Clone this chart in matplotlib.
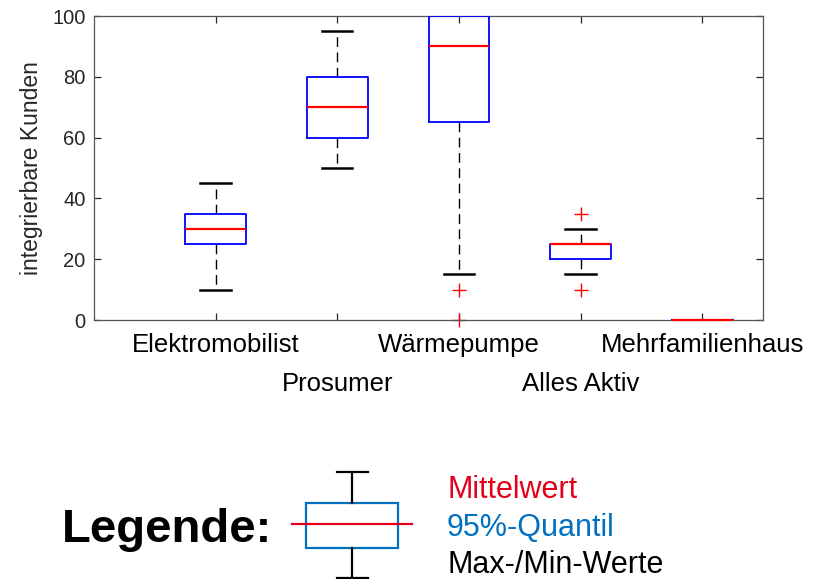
import matplotlib
matplotlib.use('Agg')
import matplotlib.pyplot as plt
from matplotlib.patches import Rectangle

plt.rcParams['font.family'] = ['Liberation Sans', 'DejaVu Sans']

# Kennwerte je Kundengruppe
gruppen = ['Elektromobilist', 'Prosumer', 'Wärmepumpe', 'Alles Aktiv', 'Mehrfamilienhaus']
minimum = [10, 50, 15, 15, 0]
q_unten = [25, 60, 65, 20, 0]
median = [30, 70, 90, 25, 0]
q_oben = [35, 80, 100, 25, 0]
maximum = [45, 95, 100, 30, 0]
ausreisser = [[], [], [10, 0], [35, 10], []]

stats = []
for i, name in enumerate(gruppen):
    stats.append({'label': name, 'whislo': minimum[i], 'q1': q_unten[i], 'med': median[i],
                  'q3': q_oben[i], 'whishi': maximum[i], 'fliers': ausreisser[i]})

fig = plt.figure(figsize=(8.3, 5.79), dpi=100)
ax = fig.add_axes([94/830, 1 - 320/579, (763 - 94)/830, (320 - 16)/579])

grau = '#262626'
bp = ax.bxp(stats, positions=range(1, 6), widths=0.5, showfliers=True,
            boxprops=dict(color='blue', linewidth=1.3, zorder=3),
            medianprops=dict(color='red', linewidth=1.6, zorder=4, clip_on=False),
            whiskerprops=dict(color='black', linewidth=1.0, linestyle=(0, (7, 4)), zorder=2),
            capprops=dict(color='black', linewidth=1.8, zorder=2),
            flierprops=dict(marker='+', markeredgecolor='red', markersize=10,
                            markeredgewidth=1.0, clip_on=False),
            capwidths=0.25)

# kein Whisker-Strich, wenn das Maximum auf der Boxkante liegt
for i in range(len(gruppen)):
    if maximum[i] == q_oben[i] and q_oben[i] != q_unten[i]:
        bp['caps'][2 * i + 1].set_visible(False)

ax.set_xlim(0, 5.5)
ax.set_ylim(0, 100)
ax.set_yticks([0, 20, 40, 60, 80, 100])

# Beschriftungen abwechselnd in zwei Zeilen
ax.xaxis.remove_overlapping_locs = False
ax.set_xticks([1, 2, 3, 4, 5])
ax.set_xticklabels(['Elektromobilist', '', 'Wärmepumpe', '', 'Mehrfamilienhaus'])
ax.set_xticks([2, 4], minor=True)
ax.set_xticklabels(['Prosumer', 'Alles Aktiv'], minor=True)
ax.tick_params(axis='both', which='major', direction='in', length=5, width=0.9,
               top=True, right=True, colors=grau)
ax.tick_params(axis='x', which='major', labelsize=18.5, pad=9.5, labelcolor='black')
ax.tick_params(axis='x', which='minor', labelsize=18.5, pad=37.5, length=0,
               top=False, labelcolor='black')
ax.tick_params(axis='y', labelsize=14.5, pad=6)
ax.set_ylabel('integrierbare Kunden', fontsize=16.5, color=grau, labelpad=7)
for s in ax.spines.values():
    s.set_color('#555555')
    s.set_linewidth(0.9)

# Legende unter dem Diagramm
lg = fig.add_axes([0, 0, 1, 1])
lg.set_xlim(0, 830)
lg.set_ylim(579, 0)
lg.axis('off')
lg.plot([352, 352], [472, 503], color='black', lw=1.6)
lg.plot([352, 352], [548, 578], color='black', lw=1.6)
lg.plot([337, 368], [472, 472], color='black', lw=1.6)
lg.plot([337, 368], [578, 578], color='black', lw=1.6)
lg.add_patch(Rectangle((306, 503), 92, 45, fill=False, edgecolor='#0070C0', lw=1.6))
lg.plot([292, 412], [524, 524], color='#E2001A', lw=1.6)

lg.text(62, 542, 'Legende:', fontsize=34, fontweight='bold', color='black', va='baseline')
lg.text(447, 498, 'Mittelwert', fontsize=22, color='#E2001A', va='baseline')
lg.text(447, 536, '95%-Quantil', fontsize=22, color='#0070C0', va='baseline')
lg.text(447, 573, 'Max-/Min-Werte', fontsize=22, color='black', va='baseline')

fig.savefig('out.png', dpi=100)
